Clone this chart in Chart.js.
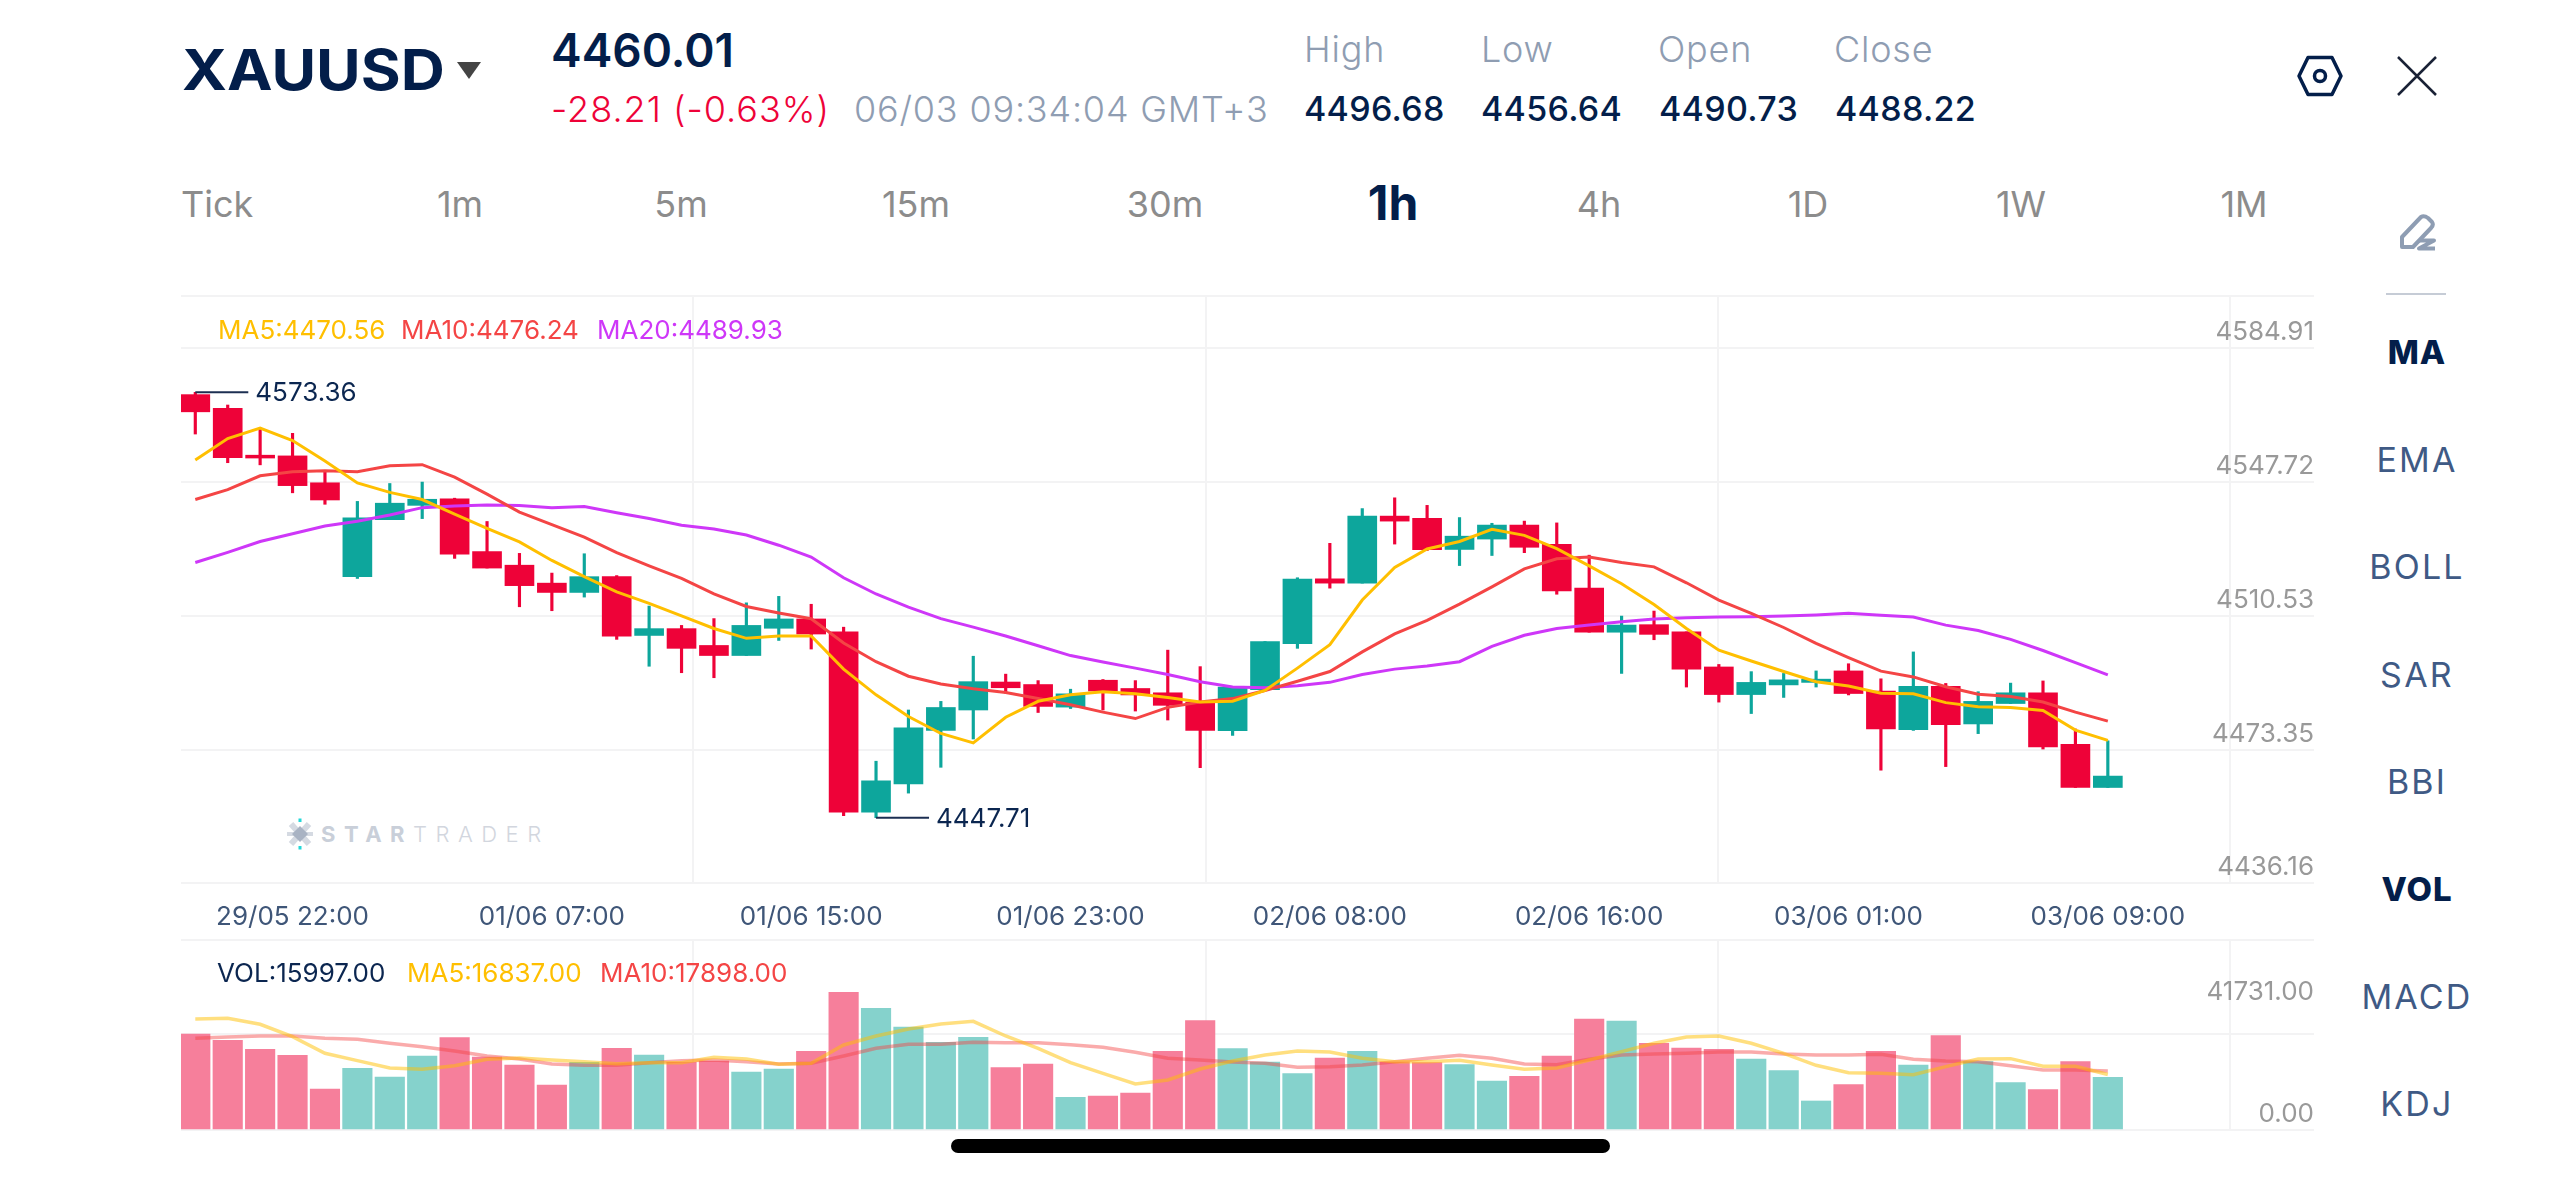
<!DOCTYPE html>
<html>
<head>
<meta charset="utf-8">
<title>XAUUSD</title>
<script src="https://cdn.jsdelivr.net/npm/chart.js@4/dist/chart.umd.min.js"></script>
<style>
	html, body { margin: 0; padding: 0; background: #fff; }
	#page { position: relative; width: 2560px; height: 1177px; overflow: hidden; font-family: Inter, sans-serif; color: #031e4a; }
	#page canvas { position: absolute; }
	.t { position: absolute; white-space: nowrap; line-height: 1; transform: translateY(-50%); }
	.c { transform: translate(-50%, -50%); }
	.label { font-size: 36px; font-weight: 300; color: #8f9db2; letter-spacing: 0.8px; }
	.num { font-size: 34px; font-weight: 500; letter-spacing: 0.3px; }
	.tab { font-size: 36px; font-weight: 400; color: #8c8c8c; }
	.side { font-size: 34px; font-weight: 400; color: #3f5a85; letter-spacing: 2.2px; }
	.side.on { font-size: 33px; font-weight: 800; color: #031e4a; letter-spacing: 1px; }
	.legend { font-size: 26px; font-weight: 400; }
</style>
</head>
<body>
<div id="page">
	<span class="t" style="left:182px;top:70px;font-size:56px;font-weight:700;transform:translateY(-50%) scaleX(1.09);transform-origin:left center">XAUUSD</span>
	<svg style="position:absolute;left:457px;top:62px" width="24" height="17"><path d="M0 0H24L12 17Z" fill="#444"/></svg>
	<span class="t" style="left:551px;top:50px;font-size:46px;font-weight:600">4460.01</span>
	<span class="t" style="left:551px;top:109px;font-size:36px;font-weight:300;color:#ee0238;letter-spacing:1px">-28.21 (-0.63%)</span>
	<span class="t label" style="left:854px;top:109px">06/03 09:34:04 GMT+3</span>

	<span class="t label" style="left:1304px;top:49px">High</span>
	<span class="t label" style="left:1481px;top:49px">Low</span>
	<span class="t label" style="left:1658px;top:49px">Open</span>
	<span class="t label" style="left:1834px;top:49px">Close</span>
	<span class="t num" style="left:1304px;top:109px">4496.68</span>
	<span class="t num" style="left:1481px;top:109px">4456.64</span>
	<span class="t num" style="left:1659px;top:109px">4490.73</span>
	<span class="t num" style="left:1835px;top:109px">4488.22</span>

	<svg style="position:absolute;left:2296px;top:53px" width="48" height="46" fill="none" stroke="#031e4a" stroke-linejoin="round">
		<path d="M12 4.500H36L45 23L36 41.500H12L3 23Z" stroke-width="3.5"/>
		<circle cx="24" cy="23" r="5.5" stroke-width="3.5"/>
	</svg>
	<svg style="position:absolute;left:2397px;top:56px" width="40" height="40" stroke="#1a2236" stroke-width="2.5">
		<path d="M1 1L39 39M39 1L1 39"/>
	</svg>

	<span class="t tab" style="left:181px;top:204px">Tick</span>
	<span class="t c tab" style="left:460px;top:204px">1m</span>
	<span class="t c tab" style="left:681px;top:204px">5m</span>
	<span class="t c tab" style="left:916px;top:204px">15m</span>
	<span class="t c tab" style="left:1165px;top:204px">30m</span>
	<span class="t c" style="left:1393px;top:203px;font-size:48px;font-weight:700">1h</span>
	<span class="t c tab" style="left:1599px;top:204px">4h</span>
	<span class="t c tab" style="left:1808px;top:204px">1D</span>
	<span class="t c tab" style="left:2021px;top:204px">1W</span>
	<span class="t c tab" style="left:2244px;top:204px">1M</span>

	<svg style="position:absolute;left:2398px;top:213px" width="40" height="38" fill="none" stroke="#8e9db3" stroke-linejoin="round">
		<path d="M4 24L23 4Q26 2 30 5L34 9Q36 12 33 15L15 34H4Z" stroke-width="4"/>
		<path d="M21 27.500H36L21 35.500H37" stroke-width="4"/>
	</svg>
	<div style="position:absolute;left:2386px;top:293px;width:60px;height:2px;background:#c6ccd6"></div>

	<span class="t c side on" style="left:2417px;top:352px">MA</span>
	<span class="t c side" style="left:2417px;top:460px">EMA</span>
	<span class="t c side" style="left:2417px;top:567px">BOLL</span>
	<span class="t c side" style="left:2417px;top:675px">SAR</span>
	<span class="t c side" style="left:2417px;top:782px">BBI</span>
	<span class="t c side on" style="left:2417px;top:889px">VOL</span>
	<span class="t c side" style="left:2417px;top:997px">MACD</span>
	<span class="t c side" style="left:2417px;top:1104px">KDJ</span>

	<svg style="position:absolute;left:286px;top:818px" width="28" height="32">
		<path d="M5 6L23 26M23 6L5 26" stroke="#d5dae2" stroke-width="6"/>
		<path d="M1 16H27" stroke="#d5dae2" stroke-width="4"/>
		<path d="M14 8L22 16L14 24L6 16Z" fill="#a9b3c3"/>
		<path d="M14 0.500V4M14 28V31.500" stroke="#22d8d8" stroke-width="3"/>
	</svg>
	<span class="t" style="left:321px;top:834px;font-size:22px;letter-spacing:8.500px;color:#c9cfd9;font-weight:700">STAR<span style="font-weight:300;color:#d2d6de">TRADER</span></span>

	<canvas id="priceChart" width="2133" height="640" style="left:181px;top:292px"></canvas>
	<canvas id="volChart" width="2133" height="198" style="left:181px;top:936px"></canvas>

	<span class="t legend" style="left:218px;top:330px;color:#ffbf00">MA5:4470.56</span>
	<span class="t legend" style="left:401px;top:330px;color:#f44545">MA10:4476.24</span>
	<span class="t legend" style="left:597px;top:330px;color:#ce37f8">MA20:4489.93</span>
	<span class="t legend" style="left:217px;top:973px;color:#0b2650">VOL:15997.00</span>
	<span class="t legend" style="left:407px;top:973px;color:#ffbf00">MA5:16837.00</span>
	<span class="t legend" style="left:600px;top:973px;color:#f44545">MA10:17898.00</span>

	<div style="position:absolute;left:951px;top:1139px;width:659px;height:14px;border-radius:7px;background:#000"></div>
</div>

<script>
// hourly candles, oldest first
const open = [
	4572.68, 4568.66, 4554.79, 4554.58, 4546.64, 4518.91, 4535.74, 4539.97, 4541.88, 4526.32,
	4522.30, 4517.00, 4514.25, 4518.91, 4501.55, 4503.56, 4498.59, 4495.62, 4503.67, 4506.42,
	4502.61, 4449.37, 4457.73, 4473.50, 4479.53, 4487.79, 4487.05, 4480.38, 4488.32, 4485.88,
	4484.61, 4481.86, 4473.39, 4485.57, 4499.12, 4518.27, 4517.00, 4536.80, 4536.16, 4526.95,
	4530.02, 4534.15, 4528.44, 4515.52, 4502.50, 4504.73, 4502.61, 4492.24, 4484.09, 4486.94,
	4487.68, 4491.07, 4485.14, 4473.71, 4486.52, 4475.41, 4481.44, 4484.61, 4469.37, 4456.64
];
const high = [
	4573.36, 4569.61, 4562.84, 4561.25, 4549.92, 4541.14, 4546.43, 4546.85, 4542.09, 4535.21,
	4525.79, 4519.97, 4525.68, 4519.23, 4510.23, 4504.51, 4506.53, 4511.18, 4513.09, 4510.76,
	4503.99, 4464.40, 4479.53, 4482.07, 4495.41, 4490.12, 4488.21, 4485.67, 4488.53, 4488.21,
	4497.21, 4492.34, 4486.31, 4499.75, 4518.59, 4528.75, 4539.02, 4542.20, 4539.97, 4536.37,
	4534.68, 4535.32, 4534.79, 4525.26, 4507.27, 4508.75, 4502.61, 4492.98, 4490.86, 4490.33,
	4491.07, 4493.19, 4488.74, 4496.68, 4487.37, 4484.93, 4487.47, 4488.11, 4473.92, 4470.43
];
const low = [
	4561.04, 4552.57, 4551.94, 4543.68, 4540.29, 4518.38, 4535.74, 4536.06, 4524.31, 4521.45,
	4510.02, 4508.85, 4512.88, 4500.39, 4492.45, 4490.54, 4489.06, 4495.62, 4500.07, 4497.53,
	4448.31, 4447.71, 4454.98, 4462.60, 4470.96, 4484.51, 4478.79, 4479.96, 4479.53, 4479.22,
	4476.57, 4462.49, 4472.02, 4485.25, 4497.74, 4515.52, 4517.00, 4528.54, 4526.64, 4522.19,
	4525.16, 4526.00, 4513.72, 4502.50, 4490.33, 4500.28, 4486.31, 4481.86, 4478.48, 4483.24,
	4486.31, 4483.98, 4461.75, 4473.50, 4462.81, 4472.55, 4481.44, 4468.00, 4456.64, 4456.64
];
const close = [
	4567.60, 4554.05, 4553.95, 4545.80, 4541.56, 4536.27, 4540.61, 4541.77, 4525.58, 4521.45,
	4516.26, 4514.25, 4518.91, 4501.34, 4503.56, 4497.74, 4495.62, 4504.51, 4506.42, 4501.97,
	4449.37, 4458.58, 4474.24, 4480.27, 4487.90, 4486.10, 4480.59, 4484.30, 4485.14, 4483.98,
	4480.91, 4473.50, 4486.31, 4499.75, 4518.17, 4517.00, 4536.80, 4535.32, 4526.85, 4530.87,
	4534.15, 4527.59, 4514.68, 4502.50, 4504.62, 4501.87, 4491.60, 4484.09, 4487.68, 4488.43,
	4488.64, 4484.40, 4473.92, 4486.52, 4475.19, 4482.07, 4484.61, 4468.63, 4456.64, 4460.01
];
const ma5 = [
	4553.4, 4559.7, 4562.8, 4559.1, 4553.1, 4546.6, 4543.8, 4541.7, 4537.4, 4533.2,
	4529.2, 4523.7, 4518.9, 4514.4, 4511.0, 4507.3, 4503.6, 4500.7, 4501.4, 4501.4,
	4491.6, 4484.0, 4477.6, 4472.6, 4469.8, 4477.4, 4482.1, 4484.0, 4484.9, 4484.3,
	4483.2, 4481.9, 4482.1, 4485.3, 4491.9, 4498.8, 4512.0, 4521.6, 4527.1, 4529.3,
	4532.9, 4531.1, 4527.2, 4522.1, 4516.8, 4510.7, 4503.6, 4497.2, 4494.0, 4490.9,
	4487.9, 4486.6, 4484.5, 4484.3, 4481.7, 4480.5, 4480.3, 4479.4, 4473.6, 4470.56
];
const ma10 = [
	4541.7, 4544.6, 4548.7, 4549.9, 4550.2, 4549.9, 4551.7, 4552.0, 4548.3, 4543.3,
	4538.0, 4534.3, 4530.6, 4526.0, 4522.1, 4518.4, 4513.8, 4510.1, 4508.2, 4506.5,
	4499.3, 4493.8, 4489.5, 4487.2, 4485.8, 4484.7, 4482.9, 4481.1, 4478.9, 4477.0,
	4480.3, 4481.9, 4482.9, 4485.3, 4488.0, 4490.9, 4496.7, 4502.0, 4506.0, 4510.8,
	4515.9, 4521.2, 4524.2, 4524.7, 4523.1, 4521.8, 4517.1, 4512.0, 4508.1, 4503.9,
	4499.2, 4495.0, 4491.0, 4489.3, 4486.4, 4484.2, 4483.5, 4481.9, 4478.9, 4476.24
];
const ma20 = [
	4523.1, 4526.1, 4529.3, 4531.6, 4533.9, 4535.3, 4537.1, 4539.3, 4539.8, 4540.1,
	4539.9, 4539.3, 4539.6, 4537.8, 4536.1, 4534.1, 4533.0, 4531.2, 4528.2, 4524.7,
	4518.6, 4513.8, 4509.9, 4506.5, 4504.0, 4501.4, 4498.5, 4495.6, 4493.7, 4491.9,
	4490.0, 4487.9, 4486.3, 4486.1, 4486.7, 4487.7, 4490.0, 4491.6, 4492.5, 4493.8,
	4498.3, 4501.6, 4503.6, 4504.6, 4505.6, 4506.4, 4506.8, 4507.0, 4507.1, 4507.3,
	4507.6, 4508.1, 4507.5, 4507.0, 4504.6, 4503.0, 4500.4, 4497.1, 4493.5, 4489.93
];
const volume = [
	29100, 27180, 24450, 22630, 12430, 18690, 16070, 22430, 27990, 22130,
	19700, 13640, 20510, 24750, 22730, 20510, 20920, 17580, 18490, 23850,
	41731, 36880, 31220, 26570, 28090, 18890, 20010, 9900, 10310, 11220,
	23850, 33140, 24650, 20610, 17080, 21830, 23850, 20610, 20410, 19800,
	14850, 16270, 22430, 33650, 33040, 26270, 24860, 24450, 21520, 17990,
	8790, 13740, 23850, 19700, 28590, 20710, 14350, 12230, 20710, 15997
];
const volMa5 = [
	33650, 33850, 32030, 28290, 23240, 21020, 18790, 18390, 19500, 21420,
	21830, 21220, 20710, 20110, 20410, 20410, 22030, 21520, 19900, 20210,
	25770, 28490, 30620, 32130, 32940, 28490, 24750, 20410, 17180, 13940,
	15160, 18490, 20920, 22730, 23950, 23640, 21720, 20710, 20710, 21120,
	19700, 18390, 18790, 21220, 23740, 26270, 28190, 28490, 26270, 23240,
	19600, 17380, 17180, 16770, 19200, 21520, 21620, 19300, 19300, 16837
];
const volMa10 = [
	27790, 28190, 28490, 28490, 27790, 27480, 26270, 25260, 23950, 22430,
	21520, 20010, 19600, 19600, 20410, 21020, 21220, 20710, 20010, 20210,
	22430, 24750, 25970, 25970, 26570, 26470, 26470, 25870, 25060, 23540,
	21720, 21220, 20610, 20210, 19000, 19200, 19700, 20710, 21720, 22630,
	21720, 20010, 19800, 21420, 22730, 23040, 23240, 23640, 23640, 23040,
	22730, 22730, 22940, 21420, 20920, 20710, 19500, 18190, 18190, 17898
];

// axis text
const timeLabels = ['29/05 22:00', '01/06 07:00', '01/06 15:00', '01/06 23:00', '02/06 08:00', '02/06 16:00', '03/06 01:00', '03/06 09:00'];
const timeLabelIndex = [3, 11, 19, 27, 35, 43, 51, 59];
const priceTickLabels = ['4584.91', '4547.72', '4510.53', '4473.35', '4436.16'];

const upColor = '#0da69c';
const downColor = '#ee0238';
const upVolColor = '#85d2cc';
const downVolColor = '#f67f9b';
const gridColor = '#f3f3f4';

// the panels leave empty space after the last bar
const xMin = -0.441;
const xMax = 65.36;
const xGrid = [15.36, 31.17, 46.98, 62.78];
const priceGrid = [4601.81, 4586.40, 4546.98, 4507.38, 4467.85, 4428.43];
const volGrid = [57580, 29090, 0];
const volPeak = 41731;

const isUp = i => close[i] >= open[i];
const points = values => values.map((y, i) => ({ x: i, y }));
const candleColors = open.map((_, i) => (isUp(i) ? upColor : downColor));
const volColors = open.map((_, i) => (isUp(i) ? upVolColor : downVolColor));

const tickFont = { family: 'Inter', size: 26, weight: '400' };
const noPadding = s => { s.paddingTop = 0; s.paddingBottom = 0; s.paddingLeft = 0; s.paddingRight = 0; };

// high and low callouts on the price panel
const callouts = {
	id: 'callouts',
	afterDatasetsDraw(chart) {
		const { ctx, scales } = chart;
		const hi = high.indexOf(Math.max(...high));
		const lo = low.indexOf(Math.min(...low));
		[[hi, high[hi]], [lo, low[lo]]].forEach(([i, v]) => {
			const x = scales.x.getPixelForValue(i);
			const y = scales.y.getPixelForValue(v);
			ctx.save();
			ctx.strokeStyle = '#1c2f52';
			ctx.lineWidth = 2;
			ctx.beginPath(); ctx.moveTo(x, y); ctx.lineTo(x + 53, y); ctx.stroke();
			ctx.fillStyle = '#0b2650';
			ctx.font = '400 26px Inter';
			ctx.textBaseline = 'middle';
			ctx.fillText(v.toFixed(2), x + 60, y + 1);
			ctx.restore();
		});
	}
};

const lineSet = (data, color, order, width) => ({
	type: 'line', data: points(data), borderColor: color, borderWidth: width,
	pointRadius: 0, tension: 0, order
});

new Chart(document.getElementById('priceChart'), {
	type: 'bar',
	data: {
		datasets: [
			lineSet(ma5, '#ffbf00', 0, 3),
			lineSet(ma10, '#f44545', 1, 3),
			lineSet(ma20, '#ce37f8', 2, 3),
			{ data: open.map((o, i) => ({ x: i, y: [o, close[i]] })), backgroundColor: candleColors, barThickness: 29, grouped: false, order: 3 },
			{ data: open.map((_, i) => ({ x: i, y: [low[i], high[i]] })), backgroundColor: candleColors, barThickness: 2.5, grouped: false, order: 4 }
		]
	},
	options: {
		responsive: false,
		animation: false,
		layout: { padding: { top: 4 } },
		plugins: { legend: { display: false }, tooltip: { enabled: false } },
		scales: {
			x: {
				type: 'linear', min: xMin, max: xMax, offset: false,
				afterBuildTicks: s => { s.ticks = [...xGrid, ...timeLabelIndex].sort((a, b) => a - b).map(value => ({ value })); },
				afterFit: s => { noPadding(s); s.height = 49; },
				grid: { offset: false, color: ctx => (ctx.tick && xGrid.includes(ctx.tick.value) ? gridColor : 'transparent'), lineWidth: 2, drawTicks: false },
				border: { display: false },
				ticks: {
					autoSkip: false, maxRotation: 0, padding: 19, color: '#3f5678', font: tickFont,
					callback: v => { const at = timeLabelIndex.indexOf(v); return at < 0 ? '' : timeLabels[at]; }
				}
			},
			y: {
				position: 'right', min: priceGrid[5], max: priceGrid[0],
				afterBuildTicks: s => { s.ticks = priceGrid.map(value => ({ value })).reverse(); },
				afterFit: noPadding,
				grid: { color: gridColor, lineWidth: 2, drawTicks: false },
				border: { display: false },
				ticks: {
					mirror: true, padding: 0, autoSkip: false, color: '#999', font: tickFont,
					// two lines so the text sits above its grid line
					callback: v => { const at = priceGrid.indexOf(v); return at < 1 ? '' : [priceTickLabels[at - 1], '']; }
				}
			}
		}
	},
	plugins: [callouts]
});

new Chart(document.getElementById('volChart'), {
	type: 'bar',
	data: {
		datasets: [
			lineSet(volMa5, 'rgba(255,191,0,0.5)', 0, 3.5),
			lineSet(volMa10, 'rgba(244,69,69,0.45)', 1, 3.5),
			{ data: points(volume), backgroundColor: volColors, barThickness: 29.5, grouped: false, order: 2 }
		]
	},
	options: {
		responsive: false,
		animation: false,
		layout: { padding: { top: 4, bottom: 4 } },
		plugins: { legend: { display: false }, tooltip: { enabled: false } },
		scales: {
			x: {
				type: 'linear', min: xMin, max: xMax, offset: false,
				afterBuildTicks: s => { s.ticks = xGrid.map(value => ({ value })); },
				afterFit: s => { noPadding(s); s.height = 0; },
				grid: { offset: false, color: gridColor, lineWidth: 2, drawTicks: false },
				border: { display: false },
				ticks: { display: false }
			},
			y: {
				position: 'right', min: 0, max: volGrid[0],
				afterBuildTicks: s => { s.ticks = [...volGrid, volPeak].sort((a, b) => a - b).map(value => ({ value })); },
				afterFit: noPadding,
				grid: { color: ctx => (ctx.tick && ctx.tick.value === volPeak ? 'transparent' : gridColor), lineWidth: 2, drawTicks: false },
				border: { display: false },
				ticks: {
					mirror: true, padding: 0, autoSkip: false, color: '#999', font: tickFont,
					callback: v => {
						if (v === volPeak) { return v.toFixed(2); }
						return v === 0 ? ['0.00', ''] : '';
					}
				}
			}
		}
	}
});
</script>
</body>
</html>
